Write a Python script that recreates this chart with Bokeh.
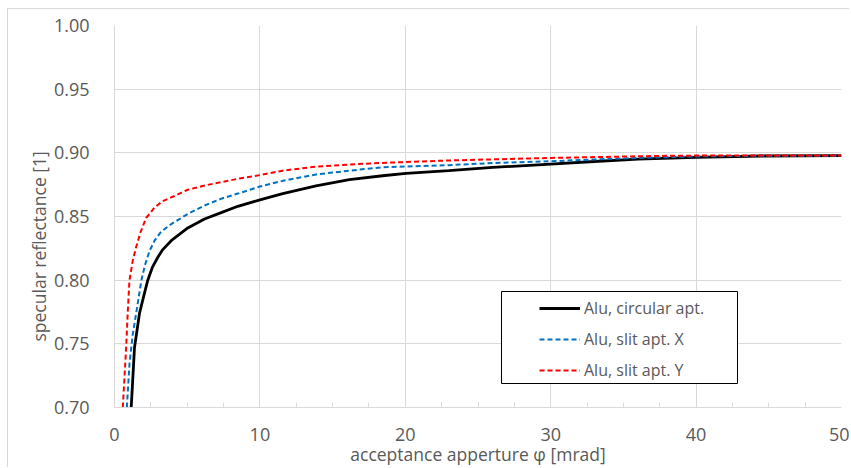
from bokeh.plotting import figure
from bokeh.models import FixedTicker, Legend, LegendItem, Title, BoxAnnotation, NumeralTickFormatter
from bokeh.embed import file_html
from bokeh.resources import INLINE

# ---- data ----
circ_x = [1.15, 1.375, 1.72, 2.0, 2.29, 2.6, 2.98, 3.32, 3.9, 5.04, 6.19, 7.34, 8.48, 10.0,
          11.57, 13.86, 16.15, 18.44, 20.05, 23.0, 26.0, 30.0, 33.0, 36.0, 40.0, 44.5, 50.0]
circ_y = [0.700, 0.747, 0.774, 0.787, 0.800, 0.810, 0.818, 0.824, 0.831, 0.841, 0.848, 0.853, 0.858, 0.863,
          0.868, 0.874, 0.879, 0.882, 0.8838, 0.8860, 0.8885, 0.8912, 0.8932, 0.8950, 0.8965, 0.8975, 0.8978]

slitx_x = [0.85, 1.03, 1.25, 1.49, 1.85, 2.1, 2.41, 2.75, 3.2, 3.9, 5.04, 6.19, 7.34, 8.48, 10.0,
           11.57, 13.86, 16.15, 18.44, 23.0, 26.0, 30.0, 33.0, 36.0, 40.0, 44.0, 50.0]
slitx_y = [0.700, 0.734, 0.757, 0.774, 0.800, 0.812, 0.823, 0.831, 0.838, 0.844, 0.852, 0.8586, 0.864, 0.868, 0.8735,
           0.878, 0.883, 0.886, 0.8887, 0.8903, 0.8920, 0.8934, 0.8948, 0.8960, 0.8972, 0.8977, 0.8978]

slity_x = [0.57, 0.8, 0.92, 1.03, 1.25, 1.49, 1.8, 2.18, 2.41, 2.75, 3.3, 4.0, 5.04, 6.19, 7.34, 8.48, 10.0,
           11.57, 13.86, 16.15, 18.44, 23.0, 30.0, 36.0, 39.0, 50.0]
slity_y = [0.700, 0.747, 0.777, 0.800, 0.815, 0.826, 0.838, 0.849, 0.852, 0.857, 0.862, 0.8655, 0.871, 0.8743, 0.877, 0.8796, 0.8825,
           0.886, 0.8892, 0.8908, 0.8921, 0.8940, 0.8960, 0.8973, 0.8978, 0.8979]

series_names = ["Alu, circular apt.", "Alu, slit apt. X", "Alu, slit apt. Y"]

x_ticks = [0, 10, 20, 30, 40, 50]
x_minor = [2.5, 5, 7.5, 12.5, 15, 17.5, 22.5, 25, 27.5, 32.5, 35, 37.5, 42.5, 45, 47.5]
y_ticks = [0.70, 0.75, 0.80, 0.85, 0.90, 0.95, 1.00]

x_label = "acceptance apperture \u03c6 [mrad]"
y_label = "specular reflectance [1]"

FONT = "Open Sans"
TXT = "#595959"
GRID = "#d9d9d9"

p = figure(width=842, height=459, x_range=(0, 50), y_range=(0.70, 1.00),
           output_backend="svg", toolbar_location=None,
           min_border_left=106, min_border_right=9, min_border_top=16, min_border_bottom=61)
p.styles = {"margin-left": "7px", "margin-top": "8px",
            "border-top": "1px solid #d9d9d9", "border-left": "1px solid #d9d9d9"}
p.outline_line_color = None

r1 = p.line(circ_x, circ_y, line_color="black", line_width=2.8)
r2 = p.line(slitx_x, slitx_y, line_color="#0070C0", line_width=2, line_dash="5 3")
r3 = p.line(slity_x, slity_y, line_color="#FF0000", line_width=2, line_dash="5 3")

# axes
p.xaxis.ticker = FixedTicker(ticks=x_ticks, minor_ticks=x_minor)
p.yaxis.ticker = FixedTicker(ticks=y_ticks)
p.yaxis.formatter = NumeralTickFormatter(format="0.00")
for ax in (p.xaxis, p.yaxis):
    ax.axis_line_color = GRID
    ax.axis_line_width = 1
    ax.major_label_text_font = FONT
    ax.major_label_text_font_size = "18px"
    ax.major_label_text_color = TXT
    ax.major_tick_in = 0
    ax.major_tick_out = 0
p.xaxis.minor_tick_in = 5
p.xaxis.minor_tick_out = 0
p.xaxis.minor_tick_line_color = GRID
p.yaxis.minor_tick_line_color = None
p.xaxis.major_label_standoff = 20
p.yaxis.major_label_standoff = 25
p.xaxis.axis_label = x_label
p.xaxis.axis_label_text_font = FONT
p.xaxis.axis_label_text_font_size = "17.5px"
p.xaxis.axis_label_text_font_style = "normal"
p.xaxis.axis_label_text_color = TXT
p.xaxis.axis_label_standoff = -2

p.xgrid.grid_line_color = GRID
p.ygrid.grid_line_color = GRID
p.xgrid.grid_line_width = 1
p.ygrid.grid_line_width = 1

# y axis title, positioned like the original (centred on the whole chart area)
p.add_layout(Title(text=y_label, align="left", offset=66, standoff=0,
                   text_font=FONT, text_font_size="17.5px", text_font_style="normal",
                   text_color=TXT), "left")

# legend frame and legend
p.add_layout(BoxAnnotation(left=387, right=623, bottom=24, top=116,
                           left_units="screen", right_units="screen",
                           bottom_units="screen", top_units="screen",
                           fill_color="white", fill_alpha=1.0,
                           line_color="black", line_width=1, line_alpha=1.0))
legend = Legend(items=[LegendItem(label=series_names[0], renderers=[r1]),
                       LegendItem(label=series_names[1], renderers=[r2]),
                       LegendItem(label=series_names[2], renderers=[r3])],
                location=(425, 25), border_line_color=None, background_fill_alpha=0,
                glyph_width=41, glyph_height=24, label_height=24, spacing=7,
                label_standoff=4, padding=0, margin=0,
                label_text_font=FONT, label_text_font_size="16px", label_text_color=TXT)
p.add_layout(legend)

open("out.html", "w").write(file_html(p, INLINE))
